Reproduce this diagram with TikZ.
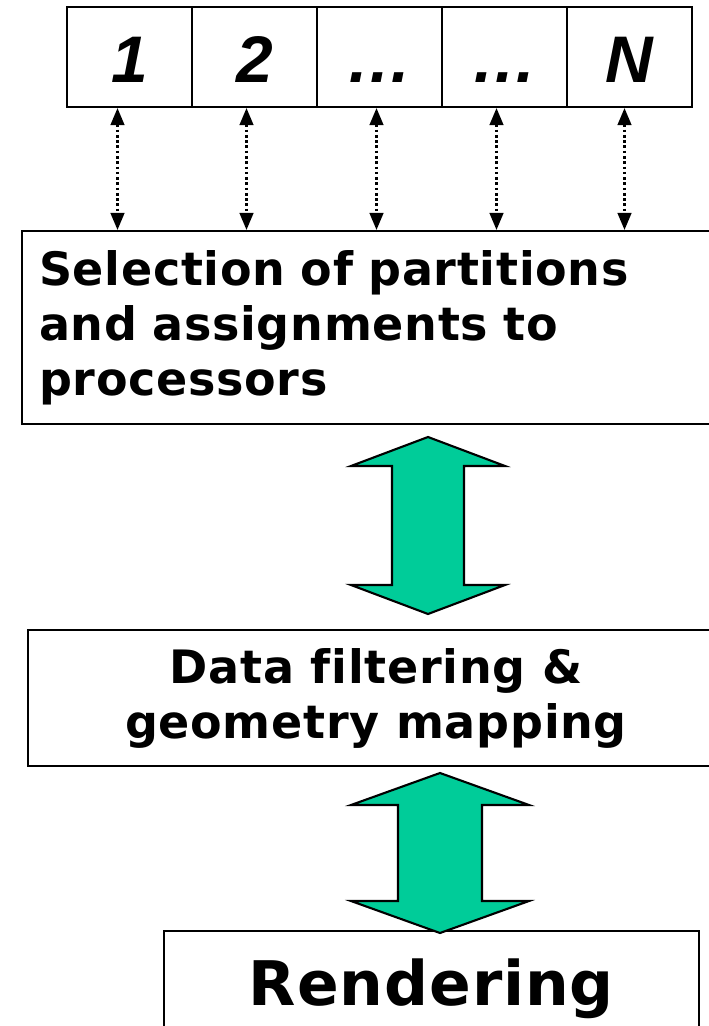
\documentclass[tikz,border=0pt]{standalone}
\usepackage{fontspec}
\setmainfont{DejaVu Sans}[Ligatures=CommonOff, LetterSpace=1.5]
\newfontfamily\cellfont{Liberation Sans}
\usetikzlibrary{arrows.meta}
\definecolor{arrowgreen}{RGB}{0,204,153}
% two-headed block arrow: x, top, bottom, half head, half shaft, head length
\newcommand{\greenarrow}[6]{%
    \filldraw[bigarrow] (#1,#2) -- (#1-#4,#2+#6) -- (#1-#5,#2+#6) -- (#1-#5,#3-#6)
        -- (#1-#4,#3-#6) -- (#1,#3) -- (#1+#4,#3-#6) -- (#1+#5,#3-#6)
        -- (#1+#5,#2+#6) -- (#1+#4,#2+#6) -- cycle;}

\begin{document}
\begin{tikzpicture}[x=0.02cm, y=-0.02cm,
    cell/.style={draw, line width=1.2pt, minimum width=2.5cm, minimum height=2cm,
        inner sep=0pt, text height=1.04cm, text depth=0pt,
        font=\cellfont\bfseries\itshape\fontsize{37.5}{40}\selectfont},
    box/.style={draw, line width=1.2pt, font=\bfseries\fontsize{26.2}{31.3}\selectfont},
    link/.style={<->, >={Triangle[length=0.34cm,width=0.27cm]}, line width=1.5pt,
        dash pattern=on 1.5pt off 1.5pt},
    bigarrow/.style={fill=arrowgreen, draw=black, line width=1.2pt, line join=miter}]
    \useasboundingbox (0,0) rectangle (708,1026);
    % Partitions
    \foreach \i/\t in {1/1,2/2,3/\dots,4/\dots,5/N}
        \node[cell] (c\i) at (4.5+125*\i,57) {\t};
    \node[box, anchor=north west, minimum height=3.86cm, text width=13.32cm,
        inner xsep=0.34cm, align=left] (sel) at (21,230)
        {Selection of partitions\\ and assignments to\\ processors};
    \foreach \i/\dx in {1/-12,2/-8,3/-3,4/-8,5/-5} {
        \coordinate (t\i) at ([shift={(\dx,0)}]c\i.south);
        \draw[link] (t\i) -- (t\i |- sel.north);
    }
    % Pipeline
    \node[box, minimum width=13.92cm, minimum height=2.72cm, align=center] (data)
        at (376,698) {Data filtering \&\\ geometry mapping};
    \node[box, minimum width=10.7cm, minimum height=2.32cm,
        font=\bfseries\fontsize{35}{40}\selectfont] (render) at (431.5,989) {Rendering};
    \greenarrow{428}{437}{614}{77}{36}{29}
    \greenarrow{440}{773}{933}{89}{42}{32}
\end{tikzpicture}
\end{document}
